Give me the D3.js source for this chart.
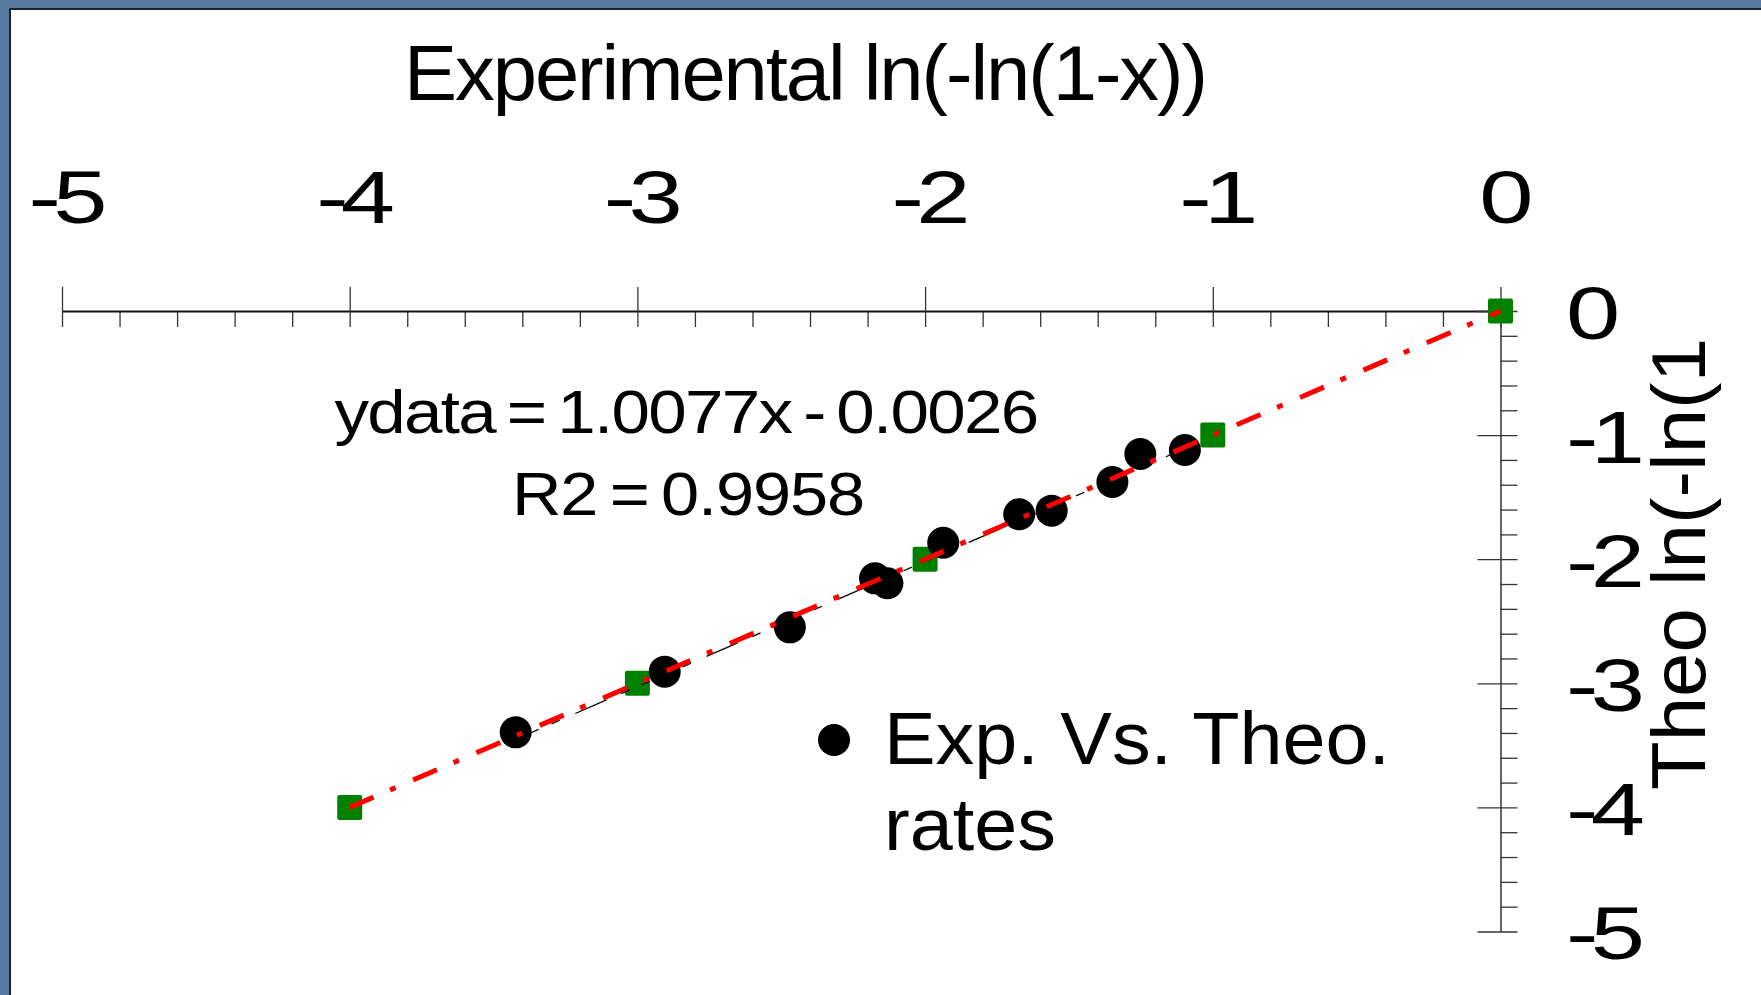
<!DOCTYPE html>
<html>
<head>
<meta charset="utf-8">
<script src="https://cdn.jsdelivr.net/npm/d3@7"></script>
<style>
  html, body { margin: 0; padding: 0; background: #fff; }
  svg { display: block; }
  text { font-family: "Liberation Sans", Arial, Helvetica, sans-serif; fill: #000; }
</style>
</head>
<body>
<svg id="chart" width="1761" height="995"></svg>
<script>
// Experimental points: ln(-ln(1-x)) measured (x) against theoretical (y)
const expX = [-3.423, -2.905, -2.470, -2.174, -2.131, -1.937, -1.673, -1.560, -1.349, -1.252, -1.097];
const expY = [-3.395, -2.906, -2.549, -2.154, -2.194, -1.867, -1.638, -1.609, -1.378, -1.152, -1.120];

// Theoretical reference points on the line y = x
const theoX = [-4, -3, -2, -1, 0];
const theoY = [-4, -3, -2, -1, 0];

// Linear regression of the experimental points
const fitSlope = 1.0077;
const fitIntercept = -0.0026;
const fitR2 = 0.9958;

// Axis ticks and labels
const xTicks = [-5, -4, -3, -2, -1, 0];
const yTicks = [0, -1, -2, -3, -4, -5];
const xTitle = "Experimental ln(-ln(1-x))";
const yTitle = "Theo ln(-ln(1";
const legendLines = ["Exp. Vs. Theo.", "rates"];

const svg = d3.select("#chart");

// frame: blue slide background with a dark edge round the white panel
svg.append("rect").attr("width", 1761).attr("height", 995).attr("fill", "#56799f");
svg.append("rect").attr("x", 9).attr("y", 8).attr("width", 1752).attr("height", 987).attr("fill", "#1c232c");
svg.append("rect").attr("x", 11).attr("y", 10).attr("width", 1750).attr("height", 985).attr("fill", "#ffffff");

const x = d3.scaleLinear().domain([-5, 0]).range([62, 1500.5]);
const y = d3.scaleLinear().domain([0, -5]).range([311, 931.5]);

const minorOf = (lo, hi) => d3.range(0, Math.round((hi - lo) / 0.2) + 1)
  .map(i => +(lo + i * 0.2).toFixed(1))
  .filter(v => !Number.isInteger(v));
const xMinor = minorOf(-5, 0);
const yMinor = minorOf(-5, 0);

// ---- x axis along the top ----
const gx = svg.append("g").attr("transform", "translate(0,311)");
gx.append("g")
  .call(d3.axisBottom(x).tickValues(xMinor).tickSize(16).tickFormat(""))
  .call(g => g.select(".domain").remove());
gx.append("g")
  .call(d3.axisBottom(x).tickValues(xTicks).tickSizeInner(16).tickSizeOuter(0).tickFormat(""))
  .call(g => g.selectAll(".tick line").attr("y1", -24));
gx.selectAll(".tick line").attr("stroke", "#333").attr("stroke-width", 1.3);
gx.selectAll(".domain").attr("stroke", "#111").attr("stroke-width", 1.8);

// ---- y axis on the right ----
const gy = svg.append("g").attr("transform", "translate(1500.5,0)");
gy.append("g")
  .call(d3.axisRight(y).tickValues(yMinor).tickSize(17).tickFormat(""))
  .call(g => g.select(".domain").remove());
gy.append("g")
  .call(d3.axisRight(y).tickValues(yTicks).tickSizeInner(17).tickSizeOuter(0).tickFormat(""))
  .call(g => g.selectAll(".tick line").attr("x1", -23));
gy.selectAll(".tick line").attr("stroke", "#333").attr("stroke-width", 1.3);
gy.selectAll(".domain").attr("stroke", "#333").attr("stroke-width", 1.5);

// wide-set tick numerals
function tickText(str, tx, ty, anchor) {
  svg.append("text")
    .attr("transform", `translate(${tx},${ty}) scale(1.3,1)`)
    .attr("text-anchor", anchor)
    .style("font-size", "75px")
    .style("letter-spacing", "-6px")
    .text(str);
}
xTicks.forEach(v => tickText(String(v), x(v) + 2, 223, "middle"));
yTicks.forEach(v => tickText(String(v), 1566, y(v) + 27.5, "start"));

// ---- titles ----
svg.append("text")
  .attr("x", 404).attr("y", 99.5)
  .attr("textLength", 802).attr("lengthAdjust", "spacingAndGlyphs")
  .style("font-size", "78px")
  .style("letter-spacing", "-2px")
  .text(xTitle);

svg.append("text")
  .attr("transform", "translate(1705,790) rotate(-90)")
  .attr("textLength", 452).attr("lengthAdjust", "spacingAndGlyphs")
  .style("font-size", "76px")
  .text(yTitle);

// ---- regression label ----
svg.append("text")
  .attr("x", 686).attr("y", 433).attr("text-anchor", "middle")
  .attr("textLength", 703).attr("lengthAdjust", "spacingAndGlyphs")
  .style("font-size", "61px")
  .style("letter-spacing", "-1.5px")
  .style("word-spacing", "-5px")
  .text(`ydata = ${fitSlope}x - ${Math.abs(fitIntercept).toFixed(4)}`);
svg.append("text")
  .attr("x", 688).attr("y", 515).attr("text-anchor", "middle")
  .attr("textLength", 352).attr("lengthAdjust", "spacingAndGlyphs")
  .style("font-size", "62px")
  .style("letter-spacing", "-1px")
  .style("word-spacing", "-5px")
  .text(`R2 = ${fitR2}`);

// ---- theoretical points (green squares) ----
const theo = theoX.map((v, i) => ({ x: v, y: theoY[i] }));
svg.append("g").selectAll("rect").data(theo).join("rect")
  .attr("x", d => x(d.x) - 12.5).attr("y", d => y(d.y) - 12.5)
  .attr("width", 25).attr("height", 25).attr("rx", 2)
  .attr("fill", "#008000");

// ---- experimental points (black circles) ----
const exp = expX.map((v, i) => ({ x: v, y: expY[i] }));
svg.append("g").selectAll("circle").data(exp).join("circle")
  .attr("cx", d => x(d.x)).attr("cy", d => y(d.y)).attr("r", 16)
  .attr("fill", "#000");

// ---- regression line (thin black, long-short dashes) ----
const xLo = d3.min(expX), xHi = d3.max(expX);
svg.append("path")
  .datum([xLo, xHi])
  .attr("d", d3.line().x(v => x(v)).y(v => y(fitSlope * v + fitIntercept)))
  .attr("fill", "none").attr("stroke", "#000").attr("stroke-width", 1.3)
  .attr("stroke-dasharray", "34,16,9,13,9,13,9,14,9,17")
  .attr("stroke-dashoffset", 78);

// ---- theoretical line (red dash-dot) ----
svg.append("path")
  .datum(theo)
  .attr("d", d3.line().x(d => x(d.x)).y(d => y(d.y)))
  .attr("fill", "none").attr("stroke", "#ff0000").attr("stroke-width", 5)
  .attr("stroke-dasharray", "26,18,6,19");

// ---- legend ----
svg.append("circle").attr("cx", 834).attr("cy", 740).attr("r", 16).attr("fill", "#000");
const legendWidths = [506, 172];
legendLines.forEach((t, i) => {
  svg.append("text")
    .attr("x", 884).attr("y", 764 + i * 86)
    .attr("textLength", legendWidths[i]).attr("lengthAdjust", "spacingAndGlyphs")
    .style("font-size", "75px")
    .text(t);
});
</script>
</body>
</html>
